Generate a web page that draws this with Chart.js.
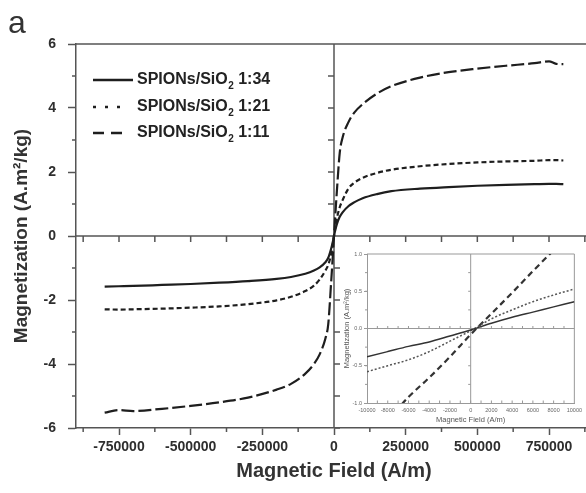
<!DOCTYPE html>
<html>
<head>
<meta charset="utf-8">
<title>Magnetization curves</title>
<script src="https://cdn.jsdelivr.net/npm/chart.js@4.4.1/dist/chart.umd.min.js"></script>
<style>
  html, body { margin: 0; padding: 0; background: #fff; overflow: hidden; }
  #wrap { position: relative; width: 586px; height: 493px; overflow: hidden; }
  #main { position: absolute; left: 0; top: 0; }
  #inset { position: absolute; left: 342px; top: 244px; background: #fff; }
</style>
</head>
<body>
<div id="wrap">
  <canvas id="main" width="600" height="493"></canvas>
  <canvas id="inset" width="244" height="180"></canvas>
</div>
<script>
// Datos (campo en A/m, magnetizacion en A.m2/kg)
const campo = [-800000, -750000, -700000, -600000, -500000, -400000, -300000, -200000, -150000, -100000,
  -70000, -50000, -30000, -20000, -10000, -5000, 0, 5000, 10000, 20000, 30000, 50000, 70000,
  100000, 150000, 200000, 300000, 400000, 500000, 600000, 700000, 750000, 775000, 800000];
const mag134 = [-1.58, -1.57, -1.56, -1.53, -1.50, -1.46, -1.41, -1.34, -1.28, -1.18,
  -1.08, -0.98, -0.82, -0.68, -0.40, -0.22, 0, 0.20, 0.37, 0.60, 0.74, 0.93, 1.05,
  1.18, 1.31, 1.40, 1.48, 1.53, 1.57, 1.60, 1.62, 1.63, 1.63, 1.62];
const mag121 = [-2.29, -2.30, -2.29, -2.27, -2.24, -2.20, -2.13, -2.01, -1.90, -1.72,
  -1.55, -1.36, -1.08, -0.90, -0.57, -0.30, 0, 0.30, 0.55, 0.90, 1.12, 1.48, 1.66,
  1.82, 1.97, 2.07, 2.18, 2.25, 2.30, 2.33, 2.35, 2.37, 2.37, 2.36];
const mag111 = [-5.52, -5.44, -5.47, -5.40, -5.31, -5.20, -5.05, -4.80, -4.62, -4.30,
  -4.00, -3.70, -3.20, -2.75, -1.45, -0.75, 0, 0.72, 1.40, 2.60, 3.08, 3.55, 3.85,
  4.12, 4.45, 4.68, 4.95, 5.12, 5.23, 5.32, 5.40, 5.46, 5.38, 5.37];

const campoInset = [-10000, -8000, -6000, -4000, -2000, 0, 2000, 4000, 6000, 8000, 10000];
const inset134 = [-0.38, -0.31, -0.24, -0.18, -0.10, -0.02, 0.07, 0.15, 0.22, 0.29, 0.36];
const inset121 = [-0.58, -0.50, -0.42, -0.31, -0.17, -0.03, 0.13, 0.25, 0.36, 0.45, 0.53];
const inset111 = [-1.50, -1.23, -0.92, -0.66, -0.38, -0.08, 0.20, 0.48, 0.77, 1.05, 1.32];

const relaciones = ['1:34', '1:21', '1:11'];
const ticksX = [-750000, -500000, -250000, 0, 250000, 500000, 750000];
const ticksY = [-6, -4, -2, 0, 2, 4, 6];
const ticksInsetX = [-10000, -8000, -6000, -4000, -2000, 0, 2000, 4000, 6000, 8000, 10000];
const ticksInsetY = [-1, -0.5, 0, 0.5, 1];

const FUENTE = '"Liberation Sans", Arial, sans-serif';
Chart.defaults.font.family = FUENTE;

function puntos(xs, ys) {
  return xs.map((x, i) => ({ x: x, y: ys[i] }));
}

// Ejes estilo Origin: marco superior, lineas en cero y marcas menores
const ejesPlugin = {
  id: 'ejes',
  beforeDatasetsDraw(chart) {
    const { ctx, chartArea: a, scales: { x, y } } = chart;
    const x0 = x.getPixelForValue(0);
    const y0 = y.getPixelForValue(0);
    ctx.save();
    ctx.strokeStyle = '#555';
    ctx.lineWidth = 1.5;
    ctx.beginPath();
    ctx.moveTo(a.left, a.top); ctx.lineTo(a.right, a.top);
    ctx.moveTo(a.left, y0); ctx.lineTo(a.right, y0);
    ctx.moveTo(x0, a.top); ctx.lineTo(x0, a.bottom);
    for (let v = -875000; v <= 875000; v += 125000) {
      if (v === 0) continue;
      const px = x.getPixelForValue(v);
      ctx.moveTo(px, y0); ctx.lineTo(px, y0 + 6);
    }
    for (let v = -6; v <= 6; v++) {
      if (v === 0) continue;
      const py = y.getPixelForValue(v);
      ctx.moveTo(x0, py); ctx.lineTo(x0 + (v > 0 ? -6 : 6), py);
    }
    for (let v = -875000; v <= 875000; v += 250000) {
      const px = x.getPixelForValue(v);
      ctx.moveTo(px, a.bottom); ctx.lineTo(px, a.bottom + 4);
    }
    for (let v = -5; v <= 5; v += 2) {
      const py = y.getPixelForValue(v);
      ctx.moveTo(a.left, py); ctx.lineTo(a.left - 4, py);
    }
    ctx.stroke();
    ctx.restore();
  },
  afterDraw(chart) {
    const ctx = chart.ctx;
    ctx.save();
    // letra del panel
    ctx.fillStyle = '#333';
    ctx.font = '32px ' + FUENTE;
    ctx.textBaseline = 'alphabetic';
    ctx.fillText('a', 8, 33);

    // leyenda
    const filas = [80, 107, 133];
    const estilos = [
      { dash: [], x2: 133 },
      { dash: [3, 9], x2: 124 },
      { dash: [11, 7], x2: 122 }
    ];
    ctx.strokeStyle = '#1e1e1e';
    ctx.lineWidth = 2.5;
    filas.forEach((fy, i) => {
      ctx.setLineDash(estilos[i].dash);
      ctx.beginPath();
      ctx.moveTo(93, fy); ctx.lineTo(estilos[i].x2, fy);
      ctx.stroke();
      ctx.setLineDash([]);
      ctx.fillStyle = '#222';
      ctx.textBaseline = 'middle';
      ctx.font = 'bold 16px ' + FUENTE;
      let tx = 137;
      ctx.fillText('SPIONs/SiO', tx, fy);
      tx += ctx.measureText('SPIONs/SiO').width + 0.5;
      ctx.font = 'bold 10px ' + FUENTE;
      ctx.fillText('2', tx, fy + 6);
      tx += ctx.measureText('2').width;
      ctx.font = 'bold 16px ' + FUENTE;
      ctx.fillText(' ' + relaciones[i], tx, fy);
    });
    ctx.restore();
  }
};

new Chart(document.getElementById('main'), {
  type: 'line',
  data: {
    datasets: [
      { label: 'SPIONs/SiO₂ ' + relaciones[0], data: puntos(campo, mag134), borderColor: '#1e1e1e', borderWidth: 2.2 },
      { label: 'SPIONs/SiO₂ ' + relaciones[1], data: puntos(campo, mag121), borderColor: '#1e1e1e', borderWidth: 2.2, borderDash: [5, 3] },
      { label: 'SPIONs/SiO₂ ' + relaciones[2], data: puntos(campo, mag111), borderColor: '#1e1e1e', borderWidth: 2.2, borderDash: [13, 4] }
    ]
  },
  options: {
    responsive: false,
    animation: false,
    layout: { padding: { top: 44, right: 8, left: 0, bottom: 0 } },
    plugins: { legend: { display: false }, tooltip: { enabled: false } },
    elements: { point: { radius: 0 }, line: { cubicInterpolationMode: 'monotone', fill: false } },
    scales: {
      x: {
        type: 'linear', min: -900000, max: 900000,
        afterBuildTicks: s => { s.ticks = ticksX.map(v => ({ value: v })); },
        afterFit: s => { s.height = 65; },
        ticks: { font: { size: 14, weight: 'bold' }, color: '#2e2e2e', padding: 4, autoSkip: false, maxRotation: 0, callback: v => String(v) },
        grid: { drawOnChartArea: false, drawTicks: true, tickLength: 7, tickColor: '#555', tickWidth: 1.5 },
        border: { display: true, color: '#555', width: 1.5 },
        title: { display: true, text: 'Magnetic Field (A/m)', font: { size: 20, weight: 'bold' }, color: '#333', padding: { top: 0, bottom: 10 } }
      },
      y: {
        type: 'linear', min: -6, max: 6,
        afterBuildTicks: s => { s.ticks = ticksY.map(v => ({ value: v })); },
        afterFit: s => { s.width = 76; },
        ticks: { font: { size: 14, weight: 'bold' }, color: '#2e2e2e', padding: 12, callback: v => String(v) },
        grid: { drawOnChartArea: false, drawTicks: true, tickLength: 8, tickColor: '#555', tickWidth: 1.5 },
        border: { display: true, color: '#555', width: 1.5 },
        title: { display: true, text: 'Magnetization (A.m²/kg)', font: { size: 19, weight: 'bold' }, color: '#333', padding: { top: 10, bottom: 0 } }
      }
    }
  },
  plugins: [ejesPlugin]
});

// Grafico insertado (zona de campo bajo)
const ejesInset = {
  id: 'ejesInset',
  beforeDatasetsDraw(chart) {
    const { ctx, chartArea: a, scales: { x, y } } = chart;
    const x0 = x.getPixelForValue(0);
    const y0 = y.getPixelForValue(0);
    ctx.save();
    ctx.strokeStyle = '#999';
    ctx.lineWidth = 1;
    ctx.beginPath();
    ctx.moveTo(a.left, a.top); ctx.lineTo(a.right, a.top); ctx.lineTo(a.right, a.bottom);
    ctx.moveTo(a.left, y0); ctx.lineTo(a.right, y0);
    ctx.moveTo(x0, a.top); ctx.lineTo(x0, a.bottom);
    for (let v = -9000; v <= 9000; v += 1000) {
      const px = x.getPixelForValue(v);
      ctx.moveTo(px, a.bottom); ctx.lineTo(px, a.bottom - 2.5);
      ctx.moveTo(px, y0); ctx.lineTo(px, y0 - 2.5);
    }
    for (let v = -0.75; v <= 0.75; v += 0.25) {
      const py = y.getPixelForValue(v);
      ctx.moveTo(x0, py); ctx.lineTo(x0 - 2.5, py);
      ctx.moveTo(a.left, py); ctx.lineTo(a.left - 2, py);
    }
    ctx.stroke();
    ctx.restore();
  }
};

new Chart(document.getElementById('inset'), {
  type: 'line',
  data: {
    datasets: [
      { label: 'SPIONs/SiO₂ ' + relaciones[0], data: puntos(campoInset, inset134), borderColor: '#333', borderWidth: 1.5 },
      { label: 'SPIONs/SiO₂ ' + relaciones[1], data: puntos(campoInset, inset121), borderColor: '#555', borderWidth: 1.5, borderDash: [2, 2] },
      { label: 'SPIONs/SiO₂ ' + relaciones[2], data: puntos(campoInset, inset111), borderColor: '#333', borderWidth: 2.2, borderDash: [6, 4] }
    ]
  },
  options: {
    responsive: false,
    animation: false,
    layout: { padding: { top: 10, right: 9, left: 0, bottom: 0 } },
    plugins: { legend: { display: false }, tooltip: { enabled: false } },
    elements: { point: { radius: 0 }, line: { cubicInterpolationMode: 'monotone', fill: false } },
    scales: {
      x: {
        type: 'linear', min: -10000, max: 10000,
        afterBuildTicks: s => { s.ticks = ticksInsetX.map(v => ({ value: v })); },
        afterFit: s => { s.height = 21; },
        ticks: { font: { size: 5.5 }, color: '#666', padding: 4, autoSkip: false, maxRotation: 0, callback: v => String(v) },
        grid: { drawOnChartArea: false, drawTicks: false },
        border: { display: true, color: '#999', width: 1 },
        title: { display: true, text: 'Magnetic Field (A/m)', font: { size: 7.5 }, color: '#555', padding: { top: 0, bottom: 0 } }
      },
      y: {
        type: 'linear', min: -1, max: 1,
        afterBuildTicks: s => { s.ticks = ticksInsetY.map(v => ({ value: v })); },
        afterFit: s => { s.width = 25; },
        ticks: { font: { size: 5.5 }, color: '#666', padding: 2, callback: v => v.toFixed(1) },
        grid: { drawOnChartArea: false, drawTicks: true, tickLength: 3, tickColor: '#999', tickWidth: 1 },
        border: { display: true, color: '#999', width: 1 },
        title: { display: true, text: 'Magnetization (A.m²/kg)', font: { size: 7.5 }, color: '#555', padding: { top: 0, bottom: 0 } }
      }
    }
  },
  plugins: [ejesInset]
});
</script>
</body>
</html>
